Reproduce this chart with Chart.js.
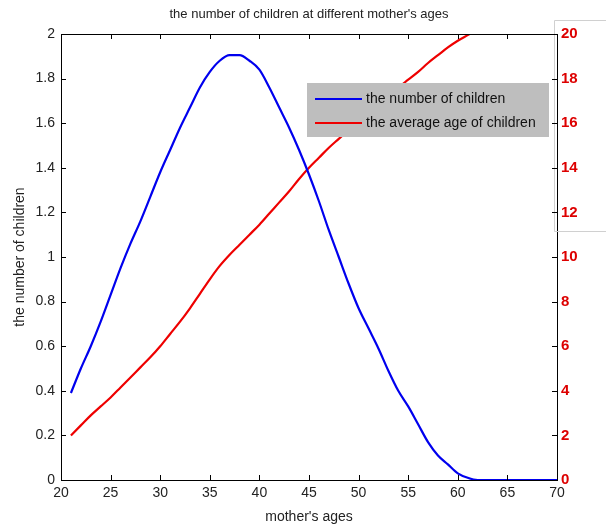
<!DOCTYPE html>
<html>
<head>
<meta charset="utf-8">
<script src="https://cdn.jsdelivr.net/npm/chart.js@4"></script>
<style>
html, body { margin: 0; padding: 0; background: #fff; }
</style>
</head>
<body>
<canvas id="myChart" width="606" height="530"></canvas>
<script>
// data
const ages = [21, 22, 23, 24, 25, 26, 27, 28, 29, 30,
              31, 32, 33, 34, 35, 36, 37, 38, 39, 40,
              41, 42, 43, 44, 45, 46, 47, 48, 49, 50,
              51, 52, 53, 54, 55, 56, 57, 58, 59, 60,
              61, 62, 63, 64, 65, 66, 67, 68, 69, 70]
const children = [0.39, 0.50, 0.60, 0.71, 0.83, 0.95, 1.06, 1.16, 1.27, 1.38,
                  1.48, 1.58, 1.67, 1.76, 1.83, 1.88, 1.905, 1.905, 1.88, 1.84,
                  1.76, 1.67, 1.58, 1.48, 1.37, 1.25, 1.12, 1.00, 0.88, 0.77,
                  0.68, 0.59, 0.49, 0.40, 0.33, 0.25, 0.17, 0.11, 0.07, 0.03,
                  0.01, 0, 0, 0, 0, 0, 0, 0, 0, 0]
const avgAge = [2.0, 2.45, 2.9, 3.3, 3.7, 4.15, 4.6, 5.05, 5.5, 6.0,
                6.55, 7.1, 7.7, 8.35, 9.0, 9.6, 10.1, 10.55, 11.0, 11.45,
                11.95, 12.45, 12.95, 13.5, 14.0, 14.45, 14.9, 15.3, 15.7, 16.1,
                16.5, 16.85, 17.2, 17.6, 17.95, 18.3, 18.7, 19.05, 19.4, 19.7,
                19.95, 20.2]
const xTicks = [20, 25, 30, 35, 40, 45, 50, 55, 60, 65, 70]
const yTicks = [0, 0.2, 0.4, 0.6, 0.8, 1, 1.2, 1.4, 1.6, 1.8, 2]
const y2Ticks = [0, 2, 4, 6, 8, 10, 12, 14, 16, 18, 20]
const seriesNames = ['the number of children', 'the average age of children']

const FONT = "'Liberation Sans Narrow', 'Arial Narrow', 'Liberation Sans', Arial, sans-serif"

function useTicks(list) {
    return function (s) { s.ticks = list.map(v => ({ value: v })) }
}

// title, odd grey frame, inward tick marks and legend box
const decor = {
    id: 'decor',
    afterDraw(chart) {
        const c = chart.ctx
        const a = chart.chartArea
        c.save()

        c.fillStyle = '#222'
        c.font = '13px ' + FONT
        c.textAlign = 'center'
        c.textBaseline = 'middle'
        c.fillText("the number of children at different mother's ages", (a.left + a.right) / 2, 14)

        c.strokeStyle = '#d0d0d0'
        c.lineWidth = 1
        c.beginPath()
        c.moveTo(606, 20.5)
        c.lineTo(554.5, 20.5)
        c.lineTo(554.5, 231.5)
        c.lineTo(606, 231.5)
        c.stroke()

        c.strokeStyle = '#000'
        c.beginPath()
        c.moveTo(a.left, a.top + 0.5)
        c.lineTo(a.right, a.top + 0.5)
        const xs = chart.scales.x
        xs.ticks.forEach(t => {
            const px = Math.round(xs.getPixelForValue(t.value)) + 0.5
            c.moveTo(px, a.bottom); c.lineTo(px, a.bottom - 5)
            c.moveTo(px, a.top); c.lineTo(px, a.top + 5)
        })
        const ys = chart.scales.y
        ys.ticks.forEach(t => {
            const py = Math.round(ys.getPixelForValue(t.value)) + 0.5
            c.moveTo(a.left, py); c.lineTo(a.left + 5, py)
        })
        const y2 = chart.scales.y2
        y2.ticks.forEach(t => {
            const py = Math.round(y2.getPixelForValue(t.value)) + 0.5
            c.moveTo(a.right, py); c.lineTo(a.right - 5, py)
        })
        c.stroke()

        // legend
        c.fillStyle = '#bebebe'
        c.fillRect(307, 83, 242, 54)
        const rows = [[99, '#0000ee'], [123, '#ee0000']]
        rows.forEach((r, i) => {
            c.strokeStyle = r[1]
            c.lineWidth = 2.2
            c.beginPath()
            c.moveTo(315, r[0]); c.lineTo(362, r[0])
            c.stroke()
            c.fillStyle = '#111'
            c.font = '14px ' + FONT
            c.textAlign = 'left'
            c.fillText(seriesNames[i], 366, r[0])
        })
        c.restore()
    }
}

const ctx = document.getElementById('myChart')
new Chart(ctx, {
    type: 'line',
    data: {
        datasets: [{
            label: seriesNames[0],
            data: ages.map((a, i) => ({ x: a, y: children[i] })),
            borderColor: '#0000ee',
            borderWidth: 2.2,
            pointRadius: 0,
            cubicInterpolationMode: 'monotone',
            yAxisID: 'y'
        }, {
            label: seriesNames[1],
            data: avgAge.map((v, i) => ({ x: ages[i], y: v })),
            borderColor: '#ee0000',
            borderWidth: 2.2,
            pointRadius: 0,
            cubicInterpolationMode: 'monotone',
            yAxisID: 'y2'
        }]
    },
    options: {
        responsive: false,
        animation: false,
        devicePixelRatio: 1,
        layout: { padding: { top: 34, left: 0, right: 0, bottom: 0 } },
        plugins: { legend: { display: false }, title: { display: false }, tooltip: { enabled: false } },
        scales: {
            x: {
                type: 'linear', min: 20, max: 70,
                grid: { display: false, drawTicks: false },
                border: { display: true, color: '#000', width: 1 },
                afterBuildTicks: useTicks(xTicks),
                ticks: { color: '#222', padding: 5, font: { family: FONT, size: 14 } },
                title: { display: true, text: "mother's ages", color: '#222', padding: { top: 0, bottom: 4 }, font: { family: FONT, size: 14 } },
                afterFit(s) { s.height = 50 }
            },
            y: {
                type: 'linear', position: 'left', min: 0, max: 2,
                grid: { display: false, drawTicks: false },
                border: { display: true, color: '#000', width: 1 },
                afterBuildTicks: useTicks(yTicks),
                ticks: { color: '#222', padding: 6, font: { family: FONT, size: 14 }, callback: v => String(v) },
                title: { display: true, text: 'the number of children', color: '#222', padding: { top: 12, bottom: 0 }, font: { family: FONT, size: 14 } },
                afterFit(s) { s.width = 61 }
            },
            y2: {
                type: 'linear', position: 'right', min: 0, max: 20,
                grid: { display: false, drawTicks: false },
                border: { display: true, color: '#000', width: 1 },
                afterBuildTicks: useTicks(y2Ticks),
                ticks: { color: '#dd0000', padding: 4, font: { family: FONT, size: 15, weight: 'bold' }, callback: v => String(v) },
                afterFit(s) { s.width = 49 }
            }
        }
    },
    plugins: [decor]
})
</script>
</body>
</html>
